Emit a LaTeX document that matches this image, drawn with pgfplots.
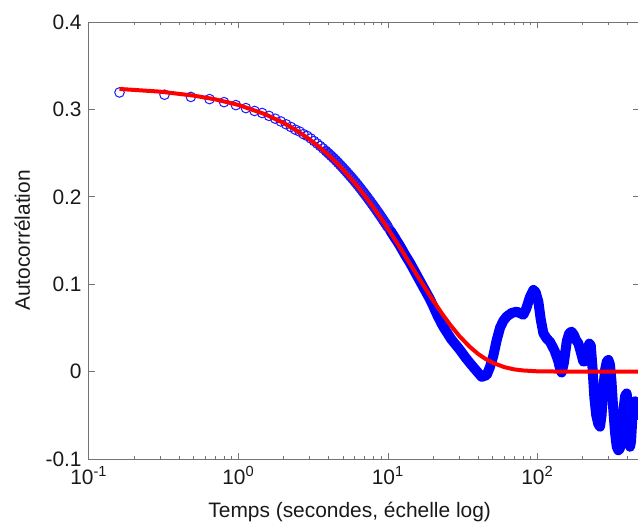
\documentclass[border=0pt]{standalone}
\usepackage{pgfplots}
\pgfplotsset{compat=1.18}
\usepackage{fontspec}
\setmainfont{Liberation Sans}
\begin{document}
\fontsize{10.5}{12.6}\selectfont
\begin{tikzpicture}
\useasboundingbox (-44.5bp,-32bp) rectangle (274.5bp,229.5bp);
\begin{axis}[
  at={(0,0)}, anchor=south west,
  scale only axis, width=275bp, height=218.5bp,
  clip marker paths=true,
  xmode=log, xmin=0.1, xmax=477, ymin=-0.1, ymax=0.4,
  xtick={0.1,1,10,100},
  xticklabels={10\textsuperscript{-1},10\textsuperscript{0},10\textsuperscript{1},10\textsuperscript{2}},
  minor xtick={0.2,0.3,0.4,0.5,0.6,0.7,0.8,0.9,2,3,4,5,6,7,8,9,20,30,40,50,60,70,80,90,200,300,400},
  ytick={-0.1,0,0.1,0.2,0.3,0.4},
  yticklabels={-0.1,0,0.1,0.2,0.3,0.4},
  major tick length=3bp, minor tick length=1.6bp,
  axis line style={black!55, line width=0.5bp},
  tick style={black!55, line width=0.5bp},
  tick label style={font=\fontsize{10.5}{12.6}\selectfont, text=black!90},
  label style={font=\fontsize{10.5}{12.6}\selectfont, text=black!90},
  xlabel={Temps (secondes, échelle log)},
  ylabel={Autocorrélation},
  xlabel style={at={(axis description cs:0.474,-0.133)}, anchor=base},
  ylabel style={at={(axis description cs:-0.1073,0.5)}, anchor=base},
]
% overlapping circles (medium density)
\addplot[blue!75, line width=5bp, line join=round, line cap=round] coordinates {
(3.84,0.2525) (4.4,0.2432) (4.8,0.2363) (5.6,0.2236) (6.4,0.2117) (7.2,0.2003)
(8.0,0.1896) (8.8,0.1795) (9.6,0.1699) (10.4,0.1608) (11.2,0.1522)
};
% dense part of the data (overlapping circles form a solid band)
\addplot[blue, line width=5bp, line join=round, line cap=round] coordinates {
(10.4,0.1608) (11.2,0.1522) (12,0.1441) (13,0.1336) (14,0.1247)
(15,0.1154) (16,0.1066) (17,0.0984) (18,0.0907) (19,0.0834) (20,0.0755)
(21.5,0.0635) (23.4,0.0514) (26.5,0.037) (30.3,0.0247) (33,0.016) (35.4,0.0095)
(39,0.001) (42.3,-0.006) (45.7,-0.004) (48,0.005) (50.6,0.018) (53.3,0.036)
(56.1,0.050) (59,0.058) (62.2,0.063) (67,0.067) (72.6,0.0686) (76,0.067)
(80.4,0.065) (84,0.072) (89.1,0.0857) (93.8,0.0934) (97,0.091) (101.3,0.080)
(105,0.060) (109.4,0.0438) (115,0.038) (121.2,0.034) (130,0.024) (137.7,0.012)
(142,0.002) (145,-0.001) (150,0.010) (157,0.035) (163,0.044) (169,0.0457)
(175,0.042) (181,0.036) (187.5,0.0324) (195,0.022) (202.5,0.0114) (208,0.012)
(215,0.025) (222,0.032) (227,0.030) (233,0.005) (240,-0.030) (247,-0.050)
(255,-0.060) (261.8,-0.063) (268,-0.050) (275,-0.020) (283,0.002) (291,0.012)
(298,0.0133) (305,0.008) (312,-0.010) (320,-0.040) (330,-0.070) (338.8,-0.086)
(347,-0.090) (356,-0.088) (365,-0.070) (375,-0.045) (385,-0.028) (394.5,-0.025)
(400,-0.035) (408,-0.070) (415.6,-0.086) (422,-0.080) (430,-0.055) (440,-0.036)
(449,-0.034) (460,-0.040) (477,-0.050)
};
% individual data points
\addplot[only marks, mark=o, mark size=2.4bp, blue!90, mark options={line width=0.5bp}] coordinates {
(0.16,0.3194) (0.32,0.3168) (0.48,0.3143) (0.64,0.3118) (0.80,0.3083) (0.96,0.3049)
(1.12,0.3015) (1.28,0.2982) (1.44,0.2959) (1.60,0.2926) (1.76,0.2894) (1.92,0.2862)
(2.08,0.2830) (2.24,0.2799) (2.40,0.2768) (2.56,0.2747) (2.72,0.2717) (2.88,0.2697)
(3.04,0.2668) (3.20,0.2638) (3.36,0.2609) (3.52,0.2581) (3.68,0.2553) (3.84,0.2525)
(4.00,0.2497) (4.16,0.2469) (4.32,0.2442) (4.48,0.2416) (4.64,0.2389) (4.80,0.2363)
(4.96,0.2337) (5.12,0.2311) (5.28,0.2286) (5.44,0.2261) (5.60,0.2236) (5.76,0.2212)
(5.92,0.2188) (6.08,0.2164) (6.24,0.2140) (6.40,0.2117) (6.56,0.2093) (6.72,0.2070)
(6.88,0.2048) (7.04,0.2025) (7.20,0.2003) (7.36,0.1981) (7.52,0.1960) (7.68,0.1938)
(7.84,0.1917) (8.00,0.1896) (8.16,0.1875) (8.32,0.1855) (8.48,0.1834) (8.64,0.1814)
(8.80,0.1795) (8.96,0.1775) (9.12,0.1756) (9.28,0.1736) (9.44,0.1717) (9.60,0.1699)
(9.76,0.1680) (9.92,0.1662)
};
% fitted curve
\addplot[red, line width=2bp, line join=round] coordinates {
(0.16,0.3234) (0.3,0.3203) (0.5,0.3158) (0.7,0.3115) (1,0.3051) (1.5,0.2946)
(2,0.2846) (2.5,0.2749) (3,0.2655) (3.5,0.2565) (4,0.2477) (4.5,0.2393) (5,0.2311)
(6,0.2156) (7,0.2011) (8,0.1876) (9,0.1750) (10,0.1633) (11,0.1523) (12,0.1421)
(13,0.1326) (14,0.1237) (15,0.1154) (16,0.1076) (18,0.0937) (20,0.0815)
(23,0.0662) (26,0.0537) (30,0.0407) (35,0.0288) (40,0.0203) (45,0.0144)
(50,0.0102) (60,0.0051) (70,0.0025) (80,0.0013) (100,0.0003) (150,0) (477,0)
};
\end{axis}
\end{tikzpicture}
\end{document}
